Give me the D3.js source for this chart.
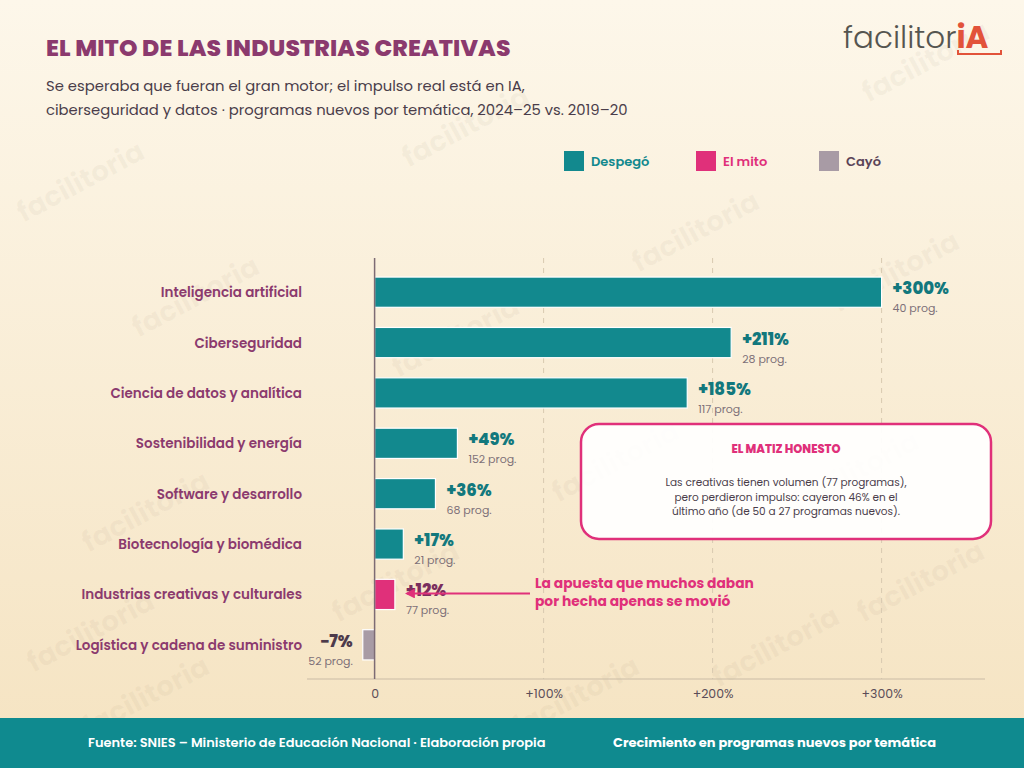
<!DOCTYPE html>
<html><head><meta charset="utf-8">
<script src="https://cdn.jsdelivr.net/npm/d3@7"></script>
<style>
html,body{margin:0;padding:0;}
body{width:1024px;height:768px;overflow:hidden;font-family:Poppins,Inter,"Noto Sans",sans-serif;}
</style></head><body>
<svg id="c" width="1024" height="768"></svg>
<script>
const categories = ["Inteligencia artificial","Ciberseguridad","Ciencia de datos y analítica","Sostenibilidad y energía","Software y desarrollo","Biotecnología y biomédica","Industrias creativas y culturales","Logística y cadena de suministro"];
const growth = [300,211,185,49,36,17,12,-7];
const programs = [40,28,117,152,68,21,77,52];
const status = ["up","up","up","up","up","up","myth","down"];
const ticks = [0,100,200,300];
const tickLabels = ["0","+100%","+200%","+300%"];
const legendKeys = ["up","myth","down"];
const legendLabels = ["Despegó","El mito","Cayó"];

const colors = {up:"#12898e", myth:"#e0307a", down:"#a89ba5"};
const legendText = {up:"#12898e", myth:"#e0307a", down:"#5a4458"};
const FONT = 'Poppins, Inter, "Noto Sans", sans-serif';

const svg = d3.select("#c");
const defs = svg.append("defs");
const g1 = defs.append("linearGradient").attr("id","bg").attr("x1",0).attr("y1",0).attr("x2",0).attr("y2",1);
g1.append("stop").attr("offset","0%").attr("stop-color","#fdf7ea");
g1.append("stop").attr("offset","100%").attr("stop-color","#f5e3c1");
defs.append("marker").attr("id","arr").attr("viewBox","0 0 10 10").attr("refX",8).attr("refY",5)
  .attr("markerWidth",5).attr("markerHeight",5).attr("orient","auto")
  .append("path").attr("d","M0,0 L10,5 L0,10 z").attr("fill","#e0307a");

svg.append("rect").attr("width",1024).attr("height",768).attr("fill","url(#bg)");

// watermarks (decoration)
const wmPos = [[470,135],[930,70],[85,190],[700,240],[900,280],[200,305],[460,345],[620,470],[150,520],[860,480],[400,590],[95,640],[780,655],[580,705],[150,705],[925,590]];
const wm = svg.append("g").attr("font-family",FONT).attr("font-weight",700).attr("font-size",28)
  .attr("fill","#8a7560").attr("fill-opacity",0.06).attr("text-anchor","middle");
wmPos.forEach(p=>wm.append("text").attr("transform",`translate(${p[0]},${p[1]}) rotate(-28)`).text("facilitoria"));

// title
svg.append("text").attr("x",46).attr("y",56).attr("font-family",FONT).attr("font-weight",800)
  .attr("font-size",23.5).attr("fill","#8b3a6e").attr("letter-spacing",0.1).text("EL MITO DE LAS INDUSTRIAS CREATIVAS");
const sub = svg.append("text").attr("font-family",FONT).attr("font-size",14.8).attr("fill","#4a3d4a");
sub.append("tspan").attr("x",46).attr("y",91).text("Se esperaba que fueran el gran motor; el impulso real está en IA,");
sub.append("tspan").attr("x",46).attr("y",115).text("ciberseguridad y datos · programas nuevos por temática, 2024–25 vs. 2019–20");

// logo
const logo = svg.append("text").attr("x",843).attr("y",48).attr("font-family",FONT).attr("font-size",31);
logo.append("tspan").attr("fill","#555550").attr("font-weight",300).text("facilitor");
logo.append("tspan").attr("fill","#e2533a").attr("font-weight",700).text("iA");
svg.append("path").attr("d","M958,50 L958,54 L1001,54 L1001,50").attr("fill","none").attr("stroke","#e2533a").attr("stroke-width",2);

// legend
const lg = svg.append("g");
const lx = [564,696,819];
legendKeys.forEach((k,i)=>{
  lg.append("rect").attr("x",lx[i]).attr("y",151).attr("width",20).attr("height",20).attr("fill",colors[k]);
  lg.append("text").attr("x",lx[i]+27).attr("y",166).attr("font-family",FONT).attr("font-weight",600)
    .attr("font-size",13).attr("fill",legendText[k]).text(legendLabels[i]);
});

// scales
const x = d3.scaleLinear().domain([-40,360]).range([307,983]);
const y = d3.scaleBand().domain(categories).range([267,670]).paddingInner(0.4).paddingOuter(0.2);
const axisY = 679;

// grid
const grid = svg.append("g");
grid.selectAll("line").data(ticks.filter(t=>t!==0)).join("line")
  .attr("x1",d=>x(d)).attr("x2",d=>x(d)).attr("y1",258).attr("y2",axisY)
  .attr("stroke","#d8c9b0").attr("stroke-dasharray","5,5").attr("stroke-width",1);

// axis
const xAxis = d3.axisBottom(x).tickValues(ticks).tickFormat((d,i)=>tickLabels[i]).tickSize(0).tickPadding(10);
const ax = svg.append("g").attr("transform",`translate(0,${axisY})`).call(xAxis);
ax.select(".domain").attr("stroke","#c9bba6").attr("stroke-width",1.2).attr("d",`M307,0H985`);
ax.selectAll("text").attr("font-family",FONT).attr("font-size",12.5).attr("fill","#5a4d58");

// bars
const data = categories.map((c,i)=>({c, v:growth[i], p:programs[i], s:status[i]}));
svg.append("g").selectAll("rect").data(data).join("rect")
  .attr("x",d=>x(Math.min(0,d.v))).attr("width",d=>Math.abs(x(d.v)-x(0)))
  .attr("y",d=>y(d.c)).attr("height",y.bandwidth())
  .attr("fill",d=>colors[d.s]).attr("stroke","#ffffff").attr("stroke-width",1.2);

// zero line
svg.append("line").attr("x1",x(0)).attr("x2",x(0)).attr("y1",258).attr("y2",axisY)
  .attr("stroke","#7d6b74").attr("stroke-width",1.5);

// category labels
svg.append("g").selectAll("text").data(data).join("text")
  .attr("x",302).attr("y",d=>y(d.c)+y.bandwidth()/2+5).attr("text-anchor","end")
  .attr("font-family",FONT).attr("font-weight",600).attr("font-size",13.5).attr("fill","#8b3a6e").text(d=>d.c);

// value labels
const vl = svg.append("g");
data.forEach(d=>{
  const neg = d.v<0;
  const tx = neg ? x(d.v)-10 : x(d.v)+11;
  const anchor = neg ? "end" : "start";
  const col = d.s==="up" ? "#12787d" : (d.s==="myth" ? "#7a2e5e" : "#4d3a4b");
  vl.append("text").attr("x",tx).attr("y",y(d.c)+y.bandwidth()/2+2).attr("text-anchor",anchor)
    .attr("font-family",FONT).attr("font-weight",800).attr("font-size",16.5).attr("fill",col)
    .text((d.v>0?"+":"−")+Math.abs(d.v)+"%");
  vl.append("text").attr("x",tx).attr("y",y(d.c)+y.bandwidth()/2+20).attr("text-anchor",anchor)
    .attr("font-family",FONT).attr("font-size",11).attr("fill","#7d7078").text(d.p+" prog.");
});

// myth annotation
const myth = data.find(d=>d.s==="myth");
const my = y(myth.c)+y.bandwidth()/2;
svg.append("line").attr("x1",530).attr("x2",x(myth.v)+12).attr("y1",my-1).attr("y2",my-1)
  .attr("stroke","#e0307a").attr("stroke-width",2).attr("marker-end","url(#arr)");
const at = svg.append("text").attr("font-family",FONT).attr("font-weight",700).attr("font-size",13.8).attr("fill","#e0307a");
at.append("tspan").attr("x",535).attr("y",my-6).text("La apuesta que muchos daban");
at.append("tspan").attr("x",535).attr("y",my+12).text("por hecha apenas se movió");

// box
svg.append("rect").attr("x",581).attr("y",424).attr("width",410).attr("height",115).attr("rx",18)
  .attr("fill","#ffffff").attr("fill-opacity",0.93).attr("stroke","#e0307a").attr("stroke-width",2.5);
svg.append("text").attr("x",786).attr("y",453).attr("text-anchor","middle").attr("font-family",FONT)
  .attr("font-weight",800).attr("font-size",11.5).attr("fill","#e0307a").text("EL MATIZ HONESTO");
const bt = svg.append("text").attr("text-anchor","middle").attr("font-family",FONT).attr("font-size",10.5).attr("fill","#4a3d4a");
["Las creativas tienen volumen (77 programas),","pero perdieron impulso: cayeron 46% en el","último año (de 50 a 27 programas nuevos)."]
  .forEach((t,i)=>bt.append("tspan").attr("x",786).attr("y",486+i*14.5).text(t));

// footer
svg.append("rect").attr("x",0).attr("y",718).attr("width",1024).attr("height",50).attr("fill","#0f8a8f");
svg.append("text").attr("x",88).attr("y",747).attr("font-family",FONT).attr("font-weight",600).attr("font-size",13)
  .attr("fill","#ffffff").text("Fuente: SNIES – Ministerio de Educación Nacional · Elaboración propia");
svg.append("text").attr("x",613).attr("y",747).attr("font-family",FONT).attr("font-weight",700).attr("font-size",13)
  .attr("fill","#ffffff").text("Crecimiento en programas nuevos por temática");
</script></body></html>
